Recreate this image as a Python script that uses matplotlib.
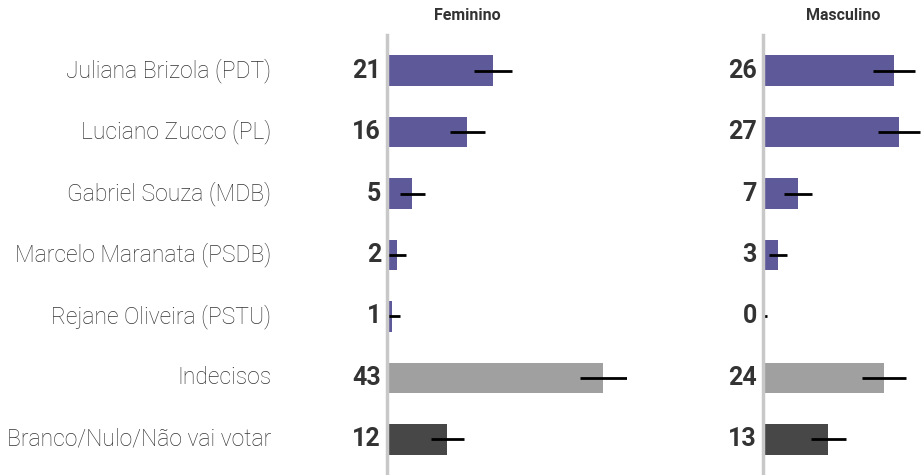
import matplotlib.pyplot as plt

candidates = ["Juliana Brizola (PDT)", "Luciano Zucco (PL)", "Gabriel Souza (MDB)",
              "Marcelo Maranata (PSDB)", "Rejane Oliveira (PSTU)", "Indecisos",
              "Branco/Nulo/Não vai votar"]
feminino = [21, 16, 5, 2, 1, 43, 12]
feminino_err = [3.8, 3.5, 2.5, 1.8, 1.5, 4.7, 3.3]
masculino = [26, 27, 7, 3, 0, 24, 13]
masculino_err = [4.2, 4.2, 2.8, 1.8, 0.8, 4.4, 3.5]
colors = ["#5e5a99"] * 5 + ["#a0a0a0", "#474747"]

W, H = 921, 475
PX_PER_UNIT = 5.03

plt.rcParams['font.family'] = ['Roboto', 'DejaVu Sans']


def make_panel(fig, left_px, width_px, title, values, errs, with_labels):
    ax = fig.add_axes([left_px / W, 0, width_px / W, 1 - 35 / H])
    y = list(range(len(values)))
    ax.barh(y, values, height=0.5, color=colors)
    ax.errorbar(values, y, xerr=errs, fmt='none', ecolor='black',
                elinewidth=2, capsize=0)
    ax.set_xlim(0, width_px / PX_PER_UNIT)
    ax.set_ylim(6.58, -0.58)
    for s in ['top', 'right', 'bottom']:
        ax.spines[s].set_visible(False)
    ax.spines['left'].set_color('#c8c8c8')
    ax.spines['left'].set_linewidth(2.5)
    ax.set_xticks([])
    ax.set_yticks([])
    for i, v in enumerate(values):
        ax.annotate(str(v), xy=(0, i), xytext=(-6, 0), textcoords='offset pixels',
                    ha='right', va='center', fontsize=18, fontweight='bold',
                    color='#333333')
        if with_labels:
            ax.annotate(candidates[i], xy=(0, i), xytext=(-116, 0),
                        textcoords='offset pixels', ha='right', va='center',
                        fontsize=16.5, fontweight='light', color='#333333')
    fig.text((left_px + 80) / W, 1 - 15 / H, title, ha='center', va='center',
             fontsize=11.5, fontweight='bold', color='#333333')
    return ax


fig = plt.figure(figsize=(W / 100, H / 100), dpi=100)
make_panel(fig, 387, 240, "Feminino", feminino, feminino_err, True)
make_panel(fig, 763, 158, "Masculino", masculino, masculino_err, False)
fig.savefig("out.png", dpi=100)
